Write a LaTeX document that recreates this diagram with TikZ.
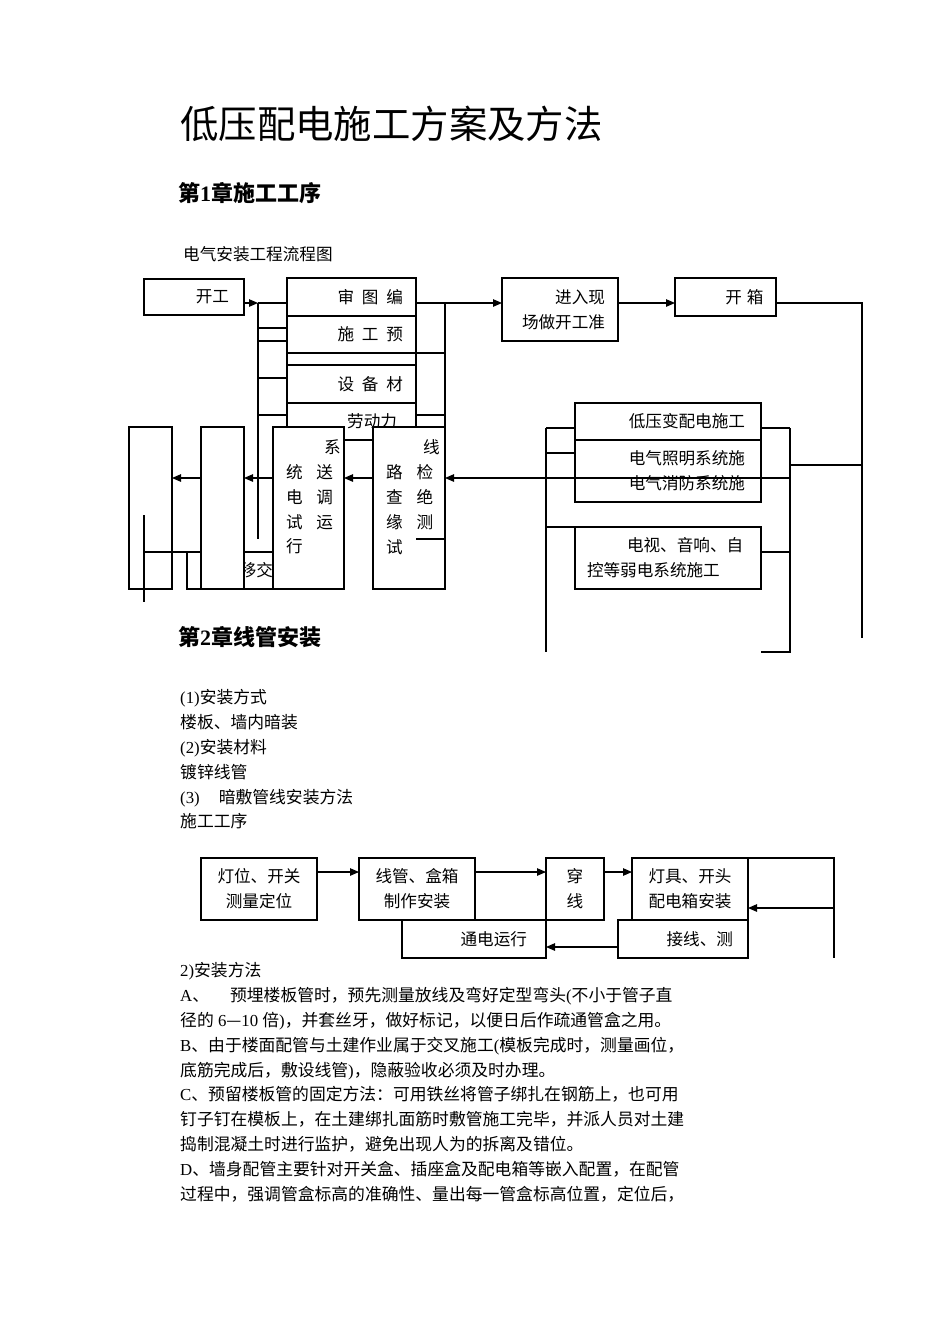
\documentclass[tikz,border=0pt]{standalone}
\usepackage{fontspec}
\setmainfont{Noto Sans CJK SC}
\newfontfamily\lat{Liberation Serif}
\usepackage{tikz}
\usetikzlibrary{arrows.meta,positioning,calc}

\newcommand{\kgap}{\hspace{7.8pt}}

\begin{document}
\begin{tikzpicture}[x=1pt, y=-1pt, >={Triangle[length=9pt,width=7.5pt]},
  box/.style={draw, fill=white, rectangle, line width=1.1pt, outer sep=0pt, inner xsep=0pt, inner ysep=0pt, align=center, font=\fontsize{16.6}{24.8}\selectfont},
  rbox/.style={box, align=right},
  lbox/.style={box, align=left},
  txt/.style={inner sep=0pt, align=left, font=\fontsize{16.6}{24.8}\selectfont},
  body/.style={txt, font=\fontsize{16.8}{24.8}\selectfont},
  line/.style={draw, line width=1.1pt},
  arr/.style={line, ->}
]

  % Page
  \fill [white] (0,0) rectangle (950,1344);
  \useasboundingbox (0,0) rectangle (950,1344);

  % Headings
  \node [txt, anchor=west, font=\fontsize{38.4}{40}\selectfont] (title) at (180,124) {低压配电施工方案及方法};
  \node [txt, anchor=west, font=\fontsize{22}{24}\selectfont\bfseries] (chap1) at (178,193) {第{\lat 1}章施工工序};
  \node [txt, anchor=west] (caption) at (183,254) {电气安装工程流程图};

  % Preparation stack
  \node [rbox, anchor=north west, text width=103pt, inner xsep=13pt, minimum height=38pt] (shentu) at (287,278) {审\kgap 图\kgap 编};
  \node [rbox, text width=103pt, inner xsep=13pt, minimum height=37pt, below=0pt of shentu] (shigong) {施\kgap 工\kgap 预};
  \node [box, minimum width=129pt, minimum height=12pt, below=0pt of shigong] (blank) {};
  \node [rbox, text width=103pt, inner xsep=13pt, minimum height=38pt, below=0pt of blank] (shebei) {设\kgap 备\kgap 材};
  \node [rbox, text width=91pt, inner xsep=19pt, minimum height=37pt, below=0pt of shebei] (laodong) {劳动力};

  % Start and site entry
  \node [rbox, anchor=north west, text width=70pt, inner xsep=15pt, minimum height=36pt] (kaigong) at (144,279) {开工};
  \node [rbox, text width=90pt, inner xsep=13pt, minimum height=63pt, right=86pt of shentu.north east, anchor=north west] (jinchang) {进入现\\场做开工准};
  \node [rbox, text width=76pt, inner xsep=12.5pt, minimum height=38pt, right=57pt of jinchang.north east, anchor=north west] (kaixiang) {开\hspace{5pt}箱};

  % Installation works
  \node [rbox, anchor=north west, text width=154pt, inner xsep=16pt, minimum height=37pt] (diya) at (575,403) {低压变配电施工};
  \node [rbox, text width=154pt, inner xsep=16pt, minimum height=62pt, below=0pt of diya] (zhaoming) {电气照明系统施\\电气消防系统施};
  \node [lbox, text width=162pt, inner xsep=12pt, minimum height=62pt, below=25pt of zhaoming] (dianshi) {\hspace*{40pt}电视、音响、自\\控等弱电系统施工};

  % Handover and tests
  \node [rbox, anchor=north west, text width=86pt, inner xsep=0pt, minimum height=37pt] (yijiao) at (187,552) {移交};
  \node [box, anchor=north west, minimum width=43pt, minimum height=162pt] (stage1) at (129,427) {};
  \coordinate (ya) at (144,552);
  \coordinate (yt) at (144,515);
  \coordinate (yd) at (144,602);
  \draw [line] (yt) -- (yd);
  \draw [line] (ya) -- (yijiao.north east);
  \node [box, minimum width=43pt, minimum height=162pt, right=29pt of stage1] (stage2) {};
  \node [box, minimum width=71pt, minimum height=162pt, right=29pt of stage2] (xitong) {};
  \node [box, minimum width=72pt, minimum height=162pt, right=29pt of xitong] (xianlu) {};
  \node [txt, anchor=north west] (xitongtxt) at ($(xitong.north west)+(13,12.7)$) {\hspace*{38pt}系\\统\hspace{13.5pt}送\\电\hspace{13.5pt}调\\试\hspace{13.5pt}运\\行};
  \node [txt, anchor=north west] (xianlutxt) at ($(xianlu.north west)+(13,12.7)$) {\hspace*{37pt}线\\路\hspace{13.8pt}检\\查\hspace{13.8pt}绝\\缘\hspace{13.8pt}测\\试};

  % Left bracket
  \coordinate (lt) at (258,303);
  \coordinate (lb) at (258,539);
  \draw [arr] (kaigong.east |- lt) -- (lt);
  \draw [line] (lt) -- (shentu.west |- lt);
  \draw [line] (lt) -- (lb);
  \draw [line] (lt |- 0,328) -- (shigong.west |- 0,328);
  \draw [line] (lt |- 0,341) -- (shigong.west |- 0,341);
  \draw [line] (lt |- 0,378) -- (shebei.west |- 0,378);
  \draw [line] (lt |- 0,415) -- (laodong.west |- 0,415);

  % Right bracket
  \coordinate (rt) at (445,303);
  \coordinate (rb) at (445,539);
  \draw [arr] (shentu.east |- rt) -- (jinchang.west |- rt);
  \draw [line] (rt) -- (rb) -- (rb -| laodong.east);
  \draw [line] (shigong.south east) -- (shigong.south east -| rt);
  \draw [line] (laodong.east |- 0,415) -- (rt |- 0,415);
  \draw [arr] (jinchang.east |- rt) -- (kaixiang.west |- rt);

  % Feed to works
  \coordinate (et) at (862,303);
  \coordinate (eb) at (862,638);
  \coordinate (ft) at (546,428);
  \coordinate (fb) at (546,652);
  \coordinate (gt) at (790,428);
  \coordinate (gb) at (790,652);
  \draw [line] (kaixiang.east |- et) -- (et) -- (eb);
  \draw [line] (et |- 0,465) -- (gt |- 0,465);
  \draw [line] (ft) -- (fb);
  \draw [line] (ft) -- (diya.west |- ft);
  \draw [line] (ft |- 0,453) -- (zhaoming.west |- 0,453);
  \draw [line] (ft |- dianshi.north) -- (dianshi.north west);
  \draw [line] (gt) -- (gb) -- (gb -| dianshi.east);
  \draw [line] (diya.east |- gt) -- (gt);
  \draw [line] (dianshi.east |- 0,552) -- (gt |- 0,552);

  % Test flow
  \coordinate (flow) at (0,478);
  \draw [arr] (gt |- flow) -- (xianlu.east |- flow);
  \draw [arr] (xianlu.west |- flow) -- (xitong.east |- flow);
  \draw [arr] (xitong.west |- flow) -- (stage2.east |- flow);
  \draw [arr] (stage2.west |- flow) -- (stage1.east |- flow);

  % Chapter 2
  \node [txt, anchor=west, font=\fontsize{22}{24}\selectfont\bfseries] (chap2) at (178,637) {第{\lat 2}章线管安装};
  \node [body, anchor=north west] (sec1) at (180,689.5) {{\lat (1)}安装方式\\楼板、墙内暗装\\{\lat (2)}安装材料\\镀锌线管\\{\lat (3)}\hspace{19pt}暗敷管线安装方法\\施工工序};

  % Conduit work flow
  \node [box, anchor=north west, minimum width=116pt, minimum height=62pt] (dengwei) at (201,858) {灯位、开关\\测量定位};
  \node [box, minimum width=116pt, minimum height=62pt, right=42pt of dengwei] (xianguan) {线管、盒箱\\制作安装};
  \node [box, minimum width=58pt, minimum height=62pt, right=71pt of xianguan] (chuanxian) {穿\\线};
  \node [box, minimum width=116pt, minimum height=62pt, right=28pt of chuanxian] (dengju) {灯具、开头\\配电箱安装};
  \node [rbox, anchor=north west, text width=100pt, inner xsep=15pt, minimum height=38pt] (jiexian) at (618,920) {接线、测};
  \node [rbox, anchor=north west, text width=106pt, inner xsep=19pt, minimum height=38pt] (tongdian) at (402,920) {通电运行};

  \coordinate (row) at (0,872);
  \coordinate (kt) at (834,858);
  \coordinate (kb) at (834,958);
  \draw [arr] (dengwei.east |- row) -- (xianguan.west |- row);
  \draw [arr] (xianguan.east |- row) -- (chuanxian.west |- row);
  \draw [arr] (chuanxian.east |- row) -- (dengju.west |- row);
  \draw [line] (dengju.north east) -- (kt) -- (kb);
  \draw [arr] (kt |- 0,908) -- (dengju.east |- 0,908);
  \draw [arr] (jiexian.west |- 0,947) -- (tongdian.east |- 0,947);

  % Methods
  \node [body, anchor=north west] (sec2) at (180,962.5) {{\lat 2)}安装方法\\
    {\lat A}、\hspace{21pt}预埋楼板管时，预先测量放线及弯好定型弯头{\lat (}不小于管子直\\
    径的{\lat\ 6}—{\lat 10 }倍{\lat )}，并套丝牙，做好标记，以便日后作疏通管盒之用。\\
    {\lat B}、由于楼面配管与土建作业属于交叉施工{\lat (}模板完成时，测量画位，\\
    底筋完成后，敷设线管{\lat )}，隐蔽验收必须及时办理。\\
    {\lat C}、预留楼板管的固定方法：可用铁丝将管子绑扎在钢筋上，也可用\\
    钉子钉在模板上，在土建绑扎面筋时敷管施工完毕，并派人员对土建\\
    捣制混凝土时进行监护，避免出现人为的拆离及错位。\\
    {\lat D}、墙身配管主要针对开关盒、插座盒及配电箱等嵌入配置，在配管\\
    过程中，强调管盒标高的准确性、量出每一管盒标高位置，定位后，};

\end{tikzpicture}
\end{document}
